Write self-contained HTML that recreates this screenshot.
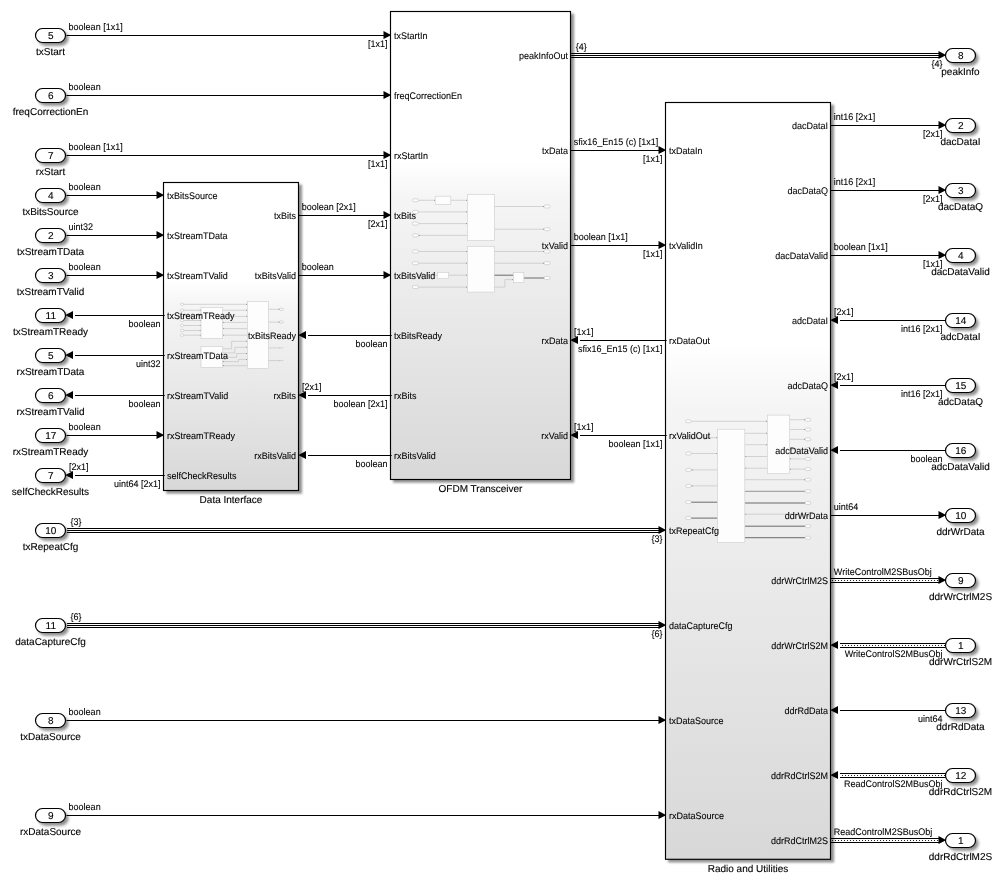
<!DOCTYPE html>
<html lang="en">
<head>
<meta charset="utf-8">
<title>Simulink model</title>
<style>
html,body{margin:0;padding:0;background:#fff;}
body{width:1004px;height:887px;overflow:hidden;}
svg{display:block;will-change:transform;}
text{font-family:"Liberation Sans", Arial, sans-serif;fill:#000;stroke:#000;stroke-width:0.1px;}
.sm{stroke-width:0.08px;text-rendering:geometricPrecision;}
.nm{stroke:#000;stroke-width:0.12px;text-rendering:geometricPrecision;}
.port{fill:#fff;stroke:#000;stroke-width:1.2;}
.psh{fill:#000;opacity:0.45;filter:url(#sp);}
.bsh{fill:#000;opacity:0.42;filter:url(#sh);}
.blk{fill:url(#bg);stroke:#000;stroke-width:1.15;}
.ln{stroke:#000;stroke-width:1.15;fill:none;}
.lb{stroke:#000;stroke-width:1;fill:none;}
.ld{stroke:#000;stroke-width:1.2;fill:none;stroke-dasharray:0.01 2.99;stroke-linecap:round;}
.ah{fill:#000;stroke:none;}
.tr{fill:#fdfdfd;stroke:#cfcfcf;stroke-width:0.65;}
.tl{stroke:#bcbcbc;stroke-width:0.6;fill:none;}
.tb{stroke:#6a6a6a;stroke-width:1;fill:none;}
.td{fill:#8a8a8a;}
.tm{stroke:#707070;stroke-width:0.7;fill:none;}
.tp{fill:#fefefe;stroke:#c0c0c0;stroke-width:0.6;}
</style>
</head>
<body>
<svg width="1004" height="887" viewBox="0 0 1004 887">
<defs>
<linearGradient id="bg" x1="0" y1="0" x2="0" y2="1">
<stop offset="0" stop-color="#ffffff"/>
<stop offset="0.32" stop-color="#ffffff"/>
<stop offset="0.40" stop-color="#f5f5f5"/>
<stop offset="1" stop-color="#d8d8d8"/>
</linearGradient>
<filter id="sh" x="-10%" y="-5%" width="120%" height="110%">
<feGaussianBlur stdDeviation="1.3"/>
</filter>
<filter id="sp" x="-50%" y="-80%" width="200%" height="260%">
<feGaussianBlur stdDeviation="1.7"/>
</filter>
</defs>
<rect width="1004" height="887" fill="#fff"/>
<rect class="bsh" x="166.1" y="184.7" width="136" height="309"/>
<rect class="blk" x="163.5" y="182.5" width="135" height="308"/>
<text class="nm" x="231" y="503" font-size="10" text-anchor="middle">Data Interface</text>
<rect class="bsh" x="393.1" y="13.7" width="181" height="469"/>
<rect class="blk" x="390.5" y="11.5" width="180" height="468"/>
<text class="nm" x="480.5" y="492" font-size="10" text-anchor="middle">OFDM Transceiver</text>
<rect class="bsh" x="668.1" y="104.7" width="166" height="757.8"/>
<rect class="blk" x="665.5" y="102.5" width="165" height="756.8"/>
<text class="nm" x="748" y="872" font-size="10" text-anchor="middle">Radio and Utilities</text>
<rect class="tp" x="180.4" y="303.2" width="3.4" height="2.2" rx="1.1"/>
<rect class="tp" x="180.4" y="309.1" width="3.4" height="2.2" rx="1.1"/>
<rect class="tp" x="180.4" y="314.4" width="3.4" height="2.2" rx="1.1"/>
<rect class="tp" x="180.4" y="319.4" width="3.4" height="2.2" rx="1.1"/>
<rect class="tp" x="180.4" y="324.4" width="3.4" height="2.2" rx="1.1"/>
<rect class="tp" x="180.4" y="329.4" width="3.4" height="2.2" rx="1.1"/>
<rect class="tp" x="180.4" y="334.1" width="3.4" height="2.2" rx="1.1"/>
<path class="tl" d="M183.8 304.3H247.4"/>
<rect class="td" x="246.15" y="303.85" width="0.9" height="0.9"/>
<path class="tl" d="M183.8 310.2H201"/>
<rect class="td" x="199.85" y="309.75" width="0.9" height="0.9"/>
<path class="tl" d="M183.8 315.5H201"/>
<rect class="td" x="199.85" y="315.05" width="0.9" height="0.9"/>
<path class="tl" d="M183.8 320.5H201"/>
<rect class="td" x="199.85" y="320.05" width="0.9" height="0.9"/>
<path class="tl" d="M183.8 325.5H201"/>
<rect class="td" x="199.85" y="325.05" width="0.9" height="0.9"/>
<path class="tl" d="M183.8 330.5H201"/>
<rect class="td" x="199.85" y="330.05" width="0.9" height="0.9"/>
<path class="tl" d="M183.8 335.2H201"/>
<rect class="td" x="199.85" y="334.75" width="0.9" height="0.9"/>
<path class="tl" d="M222.7 310.2H247.4"/>
<path class="tl" d="M222.7 316.4H247.4"/>
<path class="tl" d="M222.7 322.4H247.4"/>
<path class="tl" d="M222.7 328.6H247.4"/>
<path class="tl" d="M222.7 335.2H247.4"/>
<rect class="td" x="246.15" y="309.75" width="0.9" height="0.9"/>
<rect class="td" x="246.15" y="315.95" width="0.9" height="0.9"/>
<rect class="td" x="223.15" y="321.95" width="0.9" height="0.9"/>
<rect class="td" x="223.15" y="328.15" width="0.9" height="0.9"/>
<rect class="td" x="223.15" y="334.75" width="0.9" height="0.9"/>
<path class="tl" d="M222.7 348.8H231.6V341.3H247.4"/>
<rect class="td" x="246.15" y="340.85" width="0.9" height="0.9"/>
<path class="tl" d="M222.7 352.9H234.8V347.3H247.4"/>
<rect class="td" x="246.15" y="346.85" width="0.9" height="0.9"/>
<path class="tl" d="M222.7 357.3H236.6V353.5H247.4"/>
<rect class="td" x="246.15" y="353.05" width="0.9" height="0.9"/>
<path class="tl" d="M222.7 361.6H238.5V359.4H247.4"/>
<rect class="td" x="246.15" y="358.95" width="0.9" height="0.9"/>
<path class="tl" d="M222.7 365.7H247.4"/>
<rect class="td" x="223.15" y="365.25" width="0.9" height="0.9"/>
<rect class="td" x="223.15" y="361.15" width="0.9" height="0.9"/>
<rect class="tr" x="201" y="307.4" width="21.7" height="30.9"/>
<rect class="tr" x="201" y="346.4" width="21.7" height="21.1"/>
<rect class="tr" x="247.4" y="301.6" width="21.1" height="66.8"/>
<path class="tl" d="M268.5 309.3H280"/>
<path class="tl" d="M268.5 322.1H280"/>
<path class="tl" d="M268.5 347.9H280"/>
<path class="tl" d="M268.5 360.6H280"/>
<rect class="tp" x="279.6" y="308.2" width="3.6" height="2.2" rx="1.1"/>
<rect class="td" x="278.55" y="308.85" width="0.9" height="0.9"/>
<rect class="tp" x="279.6" y="321" width="3.6" height="2.2" rx="1.1"/>
<rect class="td" x="278.55" y="321.65" width="0.9" height="0.9"/>
<path class="tl" d="M279 347.9H283.3"/>
<path class="tl" d="M279 360.6H283.3"/>
<rect class="tp" x="412.4" y="198.8" width="6.1" height="3" rx="1.5"/>
<path class="tl" d="M418.5 200.3H467.4"/>
<rect class="tp" x="412.4" y="210.4" width="6.1" height="3" rx="1.5"/>
<path class="tl" d="M418.5 211.9H467.4"/>
<rect class="tp" x="412.4" y="222.1" width="6.1" height="3" rx="1.5"/>
<path class="tl" d="M418.5 223.6H467.4"/>
<rect class="tp" x="412.4" y="233.9" width="6.1" height="3" rx="1.5"/>
<path class="tl" d="M418.5 235.4H467.4"/>
<rect class="tp" x="412.4" y="250" width="6.1" height="3" rx="1.5"/>
<path class="tl" d="M418.5 251.5H467.4"/>
<rect class="tp" x="412.4" y="261.7" width="6.1" height="3" rx="1.5"/>
<path class="tl" d="M418.5 263.2H467.4"/>
<rect class="tp" x="412.4" y="273.7" width="6.1" height="3" rx="1.5"/>
<path class="tl" d="M418.5 275.2H467.4"/>
<rect class="tp" x="412.4" y="285.6" width="6.1" height="3" rx="1.5"/>
<path class="tl" d="M418.5 287.1H467.4"/>
<rect class="td" x="466.15" y="199.85" width="0.9" height="0.9"/>
<rect class="td" x="466.15" y="211.45" width="0.9" height="0.9"/>
<rect class="td" x="466.15" y="223.15" width="0.9" height="0.9"/>
<rect class="td" x="466.15" y="251.05" width="0.9" height="0.9"/>
<rect class="td" x="466.15" y="262.75" width="0.9" height="0.9"/>
<rect class="td" x="466.15" y="274.75" width="0.9" height="0.9"/>
<rect class="td" x="466.15" y="286.65" width="0.9" height="0.9"/>
<rect class="td" x="433.95" y="199.85" width="0.9" height="0.9"/>
<rect class="td" x="418.85" y="234.95" width="0.9" height="0.9"/>
<rect class="tr" x="435.2" y="196.2" width="15.6" height="8.3"/>
<rect class="tr" x="437.4" y="272.4" width="11.3" height="6"/>
<rect class="tr" x="467.4" y="194.3" width="27.1" height="46.1"/>
<rect class="tr" x="467.4" y="246.3" width="27.1" height="45.8"/>
<path class="tl" d="M494.5 206.5H545"/>
<rect class="tp" x="544" y="205" width="6.1" height="3" rx="1.5"/>
<rect class="td" x="542.95" y="206.05" width="0.9" height="0.9"/>
<path class="tl" d="M494.5 229.2H545"/>
<rect class="tp" x="544" y="227.7" width="6.1" height="3" rx="1.5"/>
<rect class="td" x="542.95" y="228.75" width="0.9" height="0.9"/>
<path class="tl" d="M494.5 251.5H545"/>
<rect class="tp" x="544" y="250" width="6.1" height="3" rx="1.5"/>
<rect class="td" x="542.95" y="251.05" width="0.9" height="0.9"/>
<path class="tl" d="M494.5 263.2H545"/>
<rect class="tp" x="544" y="261.7" width="6.1" height="3" rx="1.5"/>
<rect class="td" x="542.95" y="262.75" width="0.9" height="0.9"/>
<path class="tb" d="M494.5 275.2H513.5"/>
<path class="tb" d="M523.8 278H545"/>
<path class="tl" d="M494.5 287.1H504.9V279.6H513.5"/>
<rect class="td" x="512.25" y="279.15" width="0.9" height="0.9"/>
<rect class="tp" x="544" y="276.5" width="6.1" height="3" rx="1.5"/>
<rect class="tr" x="513.5" y="272.6" width="10.3" height="9.9"/>
<rect class="tp" x="685.6" y="419.85" width="5.7" height="2.9" rx="1.45"/>
<rect class="tp" x="685.6" y="436.25" width="5.7" height="2.9" rx="1.45"/>
<rect class="tp" x="685.6" y="452.05" width="5.7" height="2.9" rx="1.45"/>
<rect class="tp" x="685.6" y="468.45" width="5.7" height="2.9" rx="1.45"/>
<rect class="tp" x="685.6" y="484.45" width="5.7" height="2.9" rx="1.45"/>
<rect class="tp" x="685.6" y="500.75" width="5.7" height="2.9" rx="1.45"/>
<rect class="tp" x="685.6" y="516.65" width="5.7" height="2.9" rx="1.45"/>
<path class="tl" d="M691.3 421.3H767.3"/>
<rect class="td" x="766.05" y="420.85" width="0.9" height="0.9"/>
<path class="tl" d="M691.3 437.7H717.5"/>
<path class="tl" d="M691.3 453.5H717.5"/>
<path class="tl" d="M691.3 469.9H717.5"/>
<path class="tl" d="M691.3 485.9H717.5"/>
<rect class="td" x="716.25" y="437.25" width="0.9" height="0.9"/>
<rect class="td" x="716.25" y="453.05" width="0.9" height="0.9"/>
<rect class="td" x="691.85" y="469.45" width="0.9" height="0.9"/>
<rect class="td" x="691.85" y="485.45" width="0.9" height="0.9"/>
<path class="tb" d="M691.3 502.2H717.5"/>
<path class="tb" d="M691.3 518.1H717.5"/>
<path class="tl" d="M744.8 433.3H767.3"/>
<path class="tl" d="M744.8 444.7H767.3"/>
<path class="tl" d="M744.8 456.5H767.3"/>
<path class="tl" d="M744.8 468.2H767.3"/>
<rect class="td" x="766.05" y="432.85" width="0.9" height="0.9"/>
<rect class="td" x="766.05" y="444.25" width="0.9" height="0.9"/>
<rect class="td" x="745.25" y="456.05" width="0.9" height="0.9"/>
<rect class="td" x="745.25" y="467.75" width="0.9" height="0.9"/>
<path class="tl" d="M789.7 419.7H805"/>
<rect class="tp" x="805.2" y="418.25" width="5.6" height="2.9" rx="1.45"/>
<rect class="td" x="803.95" y="419.25" width="0.9" height="0.9"/>
<path class="tl" d="M789.7 429.5H805"/>
<rect class="tp" x="805.2" y="428.05" width="5.6" height="2.9" rx="1.45"/>
<rect class="td" x="803.95" y="429.05" width="0.9" height="0.9"/>
<path class="tl" d="M789.7 439.3H805"/>
<rect class="tp" x="805.2" y="437.85" width="5.6" height="2.9" rx="1.45"/>
<rect class="td" x="803.95" y="438.85" width="0.9" height="0.9"/>
<path class="tl" d="M789.7 449.1H805"/>
<rect class="tp" x="805.2" y="447.65" width="5.6" height="2.9" rx="1.45"/>
<rect class="td" x="790.15" y="448.65" width="0.9" height="0.9"/>
<path class="tl" d="M789.7 458.9H805"/>
<rect class="tp" x="805.2" y="457.45" width="5.6" height="2.9" rx="1.45"/>
<rect class="td" x="790.15" y="458.45" width="0.9" height="0.9"/>
<path class="tl" d="M789.7 469.1H805"/>
<rect class="tp" x="805.2" y="467.65" width="5.6" height="2.9" rx="1.45"/>
<rect class="td" x="790.15" y="468.65" width="0.9" height="0.9"/>
<path class="tl" d="M744.8 479.7H805"/>
<rect class="tp" x="805.2" y="478.25" width="5.6" height="2.9" rx="1.45"/>
<path class="tm" d="M744.8 491.3H805"/>
<rect class="tp" x="805.2" y="489.85" width="5.6" height="2.9" rx="1.45"/>
<path class="tb" d="M744.8 503H805"/>
<rect class="tp" x="805.2" y="501.55" width="5.6" height="2.9" rx="1.45"/>
<path class="tl" d="M744.8 514.2H805"/>
<rect class="tp" x="805.2" y="512.75" width="5.6" height="2.9" rx="1.45"/>
<path class="tb" d="M744.8 526.2H805"/>
<rect class="tp" x="805.2" y="524.75" width="5.6" height="2.9" rx="1.45"/>
<path class="tb" d="M744.8 537.7H805"/>
<rect class="tp" x="805.2" y="536.25" width="5.6" height="2.9" rx="1.45"/>
<rect class="td" x="803.95" y="479.25" width="0.9" height="0.9"/>
<rect class="td" x="745.25" y="513.75" width="0.9" height="0.9"/>
<rect class="tr" x="717.5" y="429.2" width="27.3" height="113.4"/>
<rect class="tr" x="767.3" y="415.1" width="22.4" height="58.5"/>
<text class="sm" transform="translate(166.9 198.6) scale(1 1.06)" font-size="9" text-anchor="start">txBitsSource</text>
<text class="sm" transform="translate(166.9 238.6) scale(1 1.06)" font-size="9" text-anchor="start">txStreamTData</text>
<text class="sm" transform="translate(166.9 278.6) scale(1 1.06)" font-size="9" text-anchor="start">txStreamTValid</text>
<text class="sm" transform="translate(166.9 318.6) scale(1 1.06)" font-size="9" text-anchor="start">txStreamTReady</text>
<text class="sm" transform="translate(166.9 358.6) scale(1 1.06)" font-size="9" text-anchor="start">rxStreamTData</text>
<text class="sm" transform="translate(166.9 398.6) scale(1 1.06)" font-size="9" text-anchor="start">rxStreamTValid</text>
<text class="sm" transform="translate(166.9 438.6) scale(1 1.06)" font-size="9" text-anchor="start">rxStreamTReady</text>
<text class="sm" transform="translate(166.9 478.6) scale(1 1.06)" font-size="9" text-anchor="start">selfCheckResults</text>
<text class="sm" transform="translate(296 218.6) scale(1 1.06)" font-size="9" text-anchor="end">txBits</text>
<text class="sm" transform="translate(296 278.6) scale(1 1.06)" font-size="9" text-anchor="end">txBitsValid</text>
<text class="sm" transform="translate(296 338.6) scale(1 1.06)" font-size="9" text-anchor="end">txBitsReady</text>
<text class="sm" transform="translate(296 398.6) scale(1 1.06)" font-size="9" text-anchor="end">rxBits</text>
<text class="sm" transform="translate(296 458.6) scale(1 1.06)" font-size="9" text-anchor="end">rxBitsValid</text>
<text class="sm" transform="translate(393.9 38.6) scale(1 1.06)" font-size="9" text-anchor="start">txStartIn</text>
<text class="sm" transform="translate(393.9 98.6) scale(1 1.06)" font-size="9" text-anchor="start">freqCorrectionEn</text>
<text class="sm" transform="translate(393.9 158.6) scale(1 1.06)" font-size="9" text-anchor="start">rxStartIn</text>
<text class="sm" transform="translate(393.9 218.6) scale(1 1.06)" font-size="9" text-anchor="start">txBits</text>
<text class="sm" transform="translate(393.9 278.6) scale(1 1.06)" font-size="9" text-anchor="start">txBitsValid</text>
<text class="sm" transform="translate(393.9 338.6) scale(1 1.06)" font-size="9" text-anchor="start">txBitsReady</text>
<text class="sm" transform="translate(393.9 398.6) scale(1 1.06)" font-size="9" text-anchor="start">rxBits</text>
<text class="sm" transform="translate(393.9 458.6) scale(1 1.06)" font-size="9" text-anchor="start">rxBitsValid</text>
<text class="sm" transform="translate(568 58.6) scale(1 1.06)" font-size="9" text-anchor="end">peakInfoOut</text>
<text class="sm" transform="translate(568 153.6) scale(1 1.06)" font-size="9" text-anchor="end">txData</text>
<text class="sm" transform="translate(568 248.6) scale(1 1.06)" font-size="9" text-anchor="end">txValid</text>
<text class="sm" transform="translate(568 343.6) scale(1 1.06)" font-size="9" text-anchor="end">rxData</text>
<text class="sm" transform="translate(568 438.6) scale(1 1.06)" font-size="9" text-anchor="end">rxValid</text>
<text class="sm" transform="translate(668.9 153.6) scale(1 1.06)" font-size="9" text-anchor="start">txDataIn</text>
<text class="sm" transform="translate(668.9 248.6) scale(1 1.06)" font-size="9" text-anchor="start">txValidIn</text>
<text class="sm" transform="translate(668.9 343.6) scale(1 1.06)" font-size="9" text-anchor="start">rxDataOut</text>
<text class="sm" transform="translate(668.9 438.6) scale(1 1.06)" font-size="9" text-anchor="start">rxValidOut</text>
<text class="sm" transform="translate(668.9 533.6) scale(1 1.06)" font-size="9" text-anchor="start">txRepeatCfg</text>
<text class="sm" transform="translate(668.9 628.6) scale(1 1.06)" font-size="9" text-anchor="start">dataCaptureCfg</text>
<text class="sm" transform="translate(668.9 723.6) scale(1 1.06)" font-size="9" text-anchor="start">txDataSource</text>
<text class="sm" transform="translate(668.9 818.6) scale(1 1.06)" font-size="9" text-anchor="start">rxDataSource</text>
<text class="sm" transform="translate(828 128.6) scale(1 1.06)" font-size="9" text-anchor="end">dacDataI</text>
<text class="sm" transform="translate(828 193.6) scale(1 1.06)" font-size="9" text-anchor="end">dacDataQ</text>
<text class="sm" transform="translate(828 258.6) scale(1 1.06)" font-size="9" text-anchor="end">dacDataValid</text>
<text class="sm" transform="translate(828 323.6) scale(1 1.06)" font-size="9" text-anchor="end">adcDataI</text>
<text class="sm" transform="translate(828 388.6) scale(1 1.06)" font-size="9" text-anchor="end">adcDataQ</text>
<text class="sm" transform="translate(828 453.6) scale(1 1.06)" font-size="9" text-anchor="end">adcDataValid</text>
<text class="sm" transform="translate(828 518.6) scale(1 1.06)" font-size="9" text-anchor="end">ddrWrData</text>
<text class="sm" transform="translate(828 583.6) scale(1 1.06)" font-size="9" text-anchor="end">ddrWrCtrlM2S</text>
<text class="sm" transform="translate(828 648.6) scale(1 1.06)" font-size="9" text-anchor="end">ddrWrCtrlS2M</text>
<text class="sm" transform="translate(828 713.6) scale(1 1.06)" font-size="9" text-anchor="end">ddrRdData</text>
<text class="sm" transform="translate(828 778.6) scale(1 1.06)" font-size="9" text-anchor="end">ddrRdCtrlS2M</text>
<text class="sm" transform="translate(828 843.6) scale(1 1.06)" font-size="9" text-anchor="end">ddrRdCtrlM2S</text>
<rect class="psh" x="38.1" y="31.3" width="30.4" height="14.4" rx="7.2" ry="7.2"/>
<rect class="port" x="35.5" y="28.5" width="30" height="14" rx="7" ry="7"/>
<text class="nm" x="50.8" y="39" font-size="10" text-anchor="middle">5</text>
<text class="nm" x="50.5" y="55" font-size="10" text-anchor="middle">txStart</text>
<rect class="psh" x="38.1" y="91.3" width="30.4" height="14.4" rx="7.2" ry="7.2"/>
<rect class="port" x="35.5" y="88.5" width="30" height="14" rx="7" ry="7"/>
<text class="nm" x="50.8" y="99" font-size="10" text-anchor="middle">6</text>
<text class="nm" x="50.5" y="115" font-size="10" text-anchor="middle">freqCorrectionEn</text>
<rect class="psh" x="38.1" y="151.3" width="30.4" height="14.4" rx="7.2" ry="7.2"/>
<rect class="port" x="35.5" y="148.5" width="30" height="14" rx="7" ry="7"/>
<text class="nm" x="50.8" y="159" font-size="10" text-anchor="middle">7</text>
<text class="nm" x="50.5" y="175" font-size="10" text-anchor="middle">rxStart</text>
<rect class="psh" x="38.1" y="191.3" width="30.4" height="14.4" rx="7.2" ry="7.2"/>
<rect class="port" x="35.5" y="188.5" width="30" height="14" rx="7" ry="7"/>
<text class="nm" x="50.8" y="199" font-size="10" text-anchor="middle">4</text>
<text class="nm" x="50.5" y="215" font-size="10" text-anchor="middle">txBitsSource</text>
<rect class="psh" x="38.1" y="231.3" width="30.4" height="14.4" rx="7.2" ry="7.2"/>
<rect class="port" x="35.5" y="228.5" width="30" height="14" rx="7" ry="7"/>
<text class="nm" x="50.8" y="239" font-size="10" text-anchor="middle">2</text>
<text class="nm" x="50.5" y="255" font-size="10" text-anchor="middle">txStreamTData</text>
<rect class="psh" x="38.1" y="271.3" width="30.4" height="14.4" rx="7.2" ry="7.2"/>
<rect class="port" x="35.5" y="268.5" width="30" height="14" rx="7" ry="7"/>
<text class="nm" x="50.8" y="279" font-size="10" text-anchor="middle">3</text>
<text class="nm" x="50.5" y="295" font-size="10" text-anchor="middle">txStreamTValid</text>
<rect class="psh" x="38.1" y="311.3" width="30.4" height="14.4" rx="7.2" ry="7.2"/>
<rect class="port" x="35.5" y="308.5" width="30" height="14" rx="7" ry="7"/>
<text class="nm" x="50.8" y="319" font-size="10" text-anchor="middle">11</text>
<text class="nm" x="50.5" y="335" font-size="10" text-anchor="middle">txStreamTReady</text>
<rect class="psh" x="38.1" y="351.3" width="30.4" height="14.4" rx="7.2" ry="7.2"/>
<rect class="port" x="35.5" y="348.5" width="30" height="14" rx="7" ry="7"/>
<text class="nm" x="50.8" y="359" font-size="10" text-anchor="middle">5</text>
<text class="nm" x="50.5" y="375" font-size="10" text-anchor="middle">rxStreamTData</text>
<rect class="psh" x="38.1" y="391.3" width="30.4" height="14.4" rx="7.2" ry="7.2"/>
<rect class="port" x="35.5" y="388.5" width="30" height="14" rx="7" ry="7"/>
<text class="nm" x="50.8" y="399" font-size="10" text-anchor="middle">6</text>
<text class="nm" x="50.5" y="415" font-size="10" text-anchor="middle">rxStreamTValid</text>
<rect class="psh" x="38.1" y="431.3" width="30.4" height="14.4" rx="7.2" ry="7.2"/>
<rect class="port" x="35.5" y="428.5" width="30" height="14" rx="7" ry="7"/>
<text class="nm" x="50.8" y="439" font-size="10" text-anchor="middle">17</text>
<text class="nm" x="50.5" y="455" font-size="10" text-anchor="middle">rxStreamTReady</text>
<rect class="psh" x="38.1" y="471.3" width="30.4" height="14.4" rx="7.2" ry="7.2"/>
<rect class="port" x="35.5" y="468.5" width="30" height="14" rx="7" ry="7"/>
<text class="nm" x="50.8" y="479" font-size="10" text-anchor="middle">7</text>
<text class="nm" x="50.5" y="495" font-size="10" text-anchor="middle">selfCheckResults</text>
<rect class="psh" x="38.1" y="526.3" width="30.4" height="14.4" rx="7.2" ry="7.2"/>
<rect class="port" x="35.5" y="523.5" width="30" height="14" rx="7" ry="7"/>
<text class="nm" x="50.8" y="534" font-size="10" text-anchor="middle">10</text>
<text class="nm" x="50.5" y="550" font-size="10" text-anchor="middle">txRepeatCfg</text>
<rect class="psh" x="38.1" y="621.3" width="30.4" height="14.4" rx="7.2" ry="7.2"/>
<rect class="port" x="35.5" y="618.5" width="30" height="14" rx="7" ry="7"/>
<text class="nm" x="50.8" y="629" font-size="10" text-anchor="middle">11</text>
<text class="nm" x="50.5" y="645" font-size="10" text-anchor="middle">dataCaptureCfg</text>
<rect class="psh" x="38.1" y="716.3" width="30.4" height="14.4" rx="7.2" ry="7.2"/>
<rect class="port" x="35.5" y="713.5" width="30" height="14" rx="7" ry="7"/>
<text class="nm" x="50.8" y="724" font-size="10" text-anchor="middle">8</text>
<text class="nm" x="50.5" y="740" font-size="10" text-anchor="middle">txDataSource</text>
<rect class="psh" x="38.1" y="811.3" width="30.4" height="14.4" rx="7.2" ry="7.2"/>
<rect class="port" x="35.5" y="808.5" width="30" height="14" rx="7" ry="7"/>
<text class="nm" x="50.8" y="819" font-size="10" text-anchor="middle">9</text>
<text class="nm" x="50.5" y="835" font-size="10" text-anchor="middle">rxDataSource</text>
<rect class="psh" x="948.1" y="51.3" width="30.4" height="14.4" rx="7.2" ry="7.2"/>
<rect class="port" x="945.5" y="48.5" width="30" height="14" rx="7" ry="7"/>
<text class="nm" x="960.8" y="59" font-size="10" text-anchor="middle">8</text>
<text class="nm" x="960.5" y="75" font-size="10" text-anchor="middle">peakInfo</text>
<rect class="psh" x="948.1" y="121.3" width="30.4" height="14.4" rx="7.2" ry="7.2"/>
<rect class="port" x="945.5" y="118.5" width="30" height="14" rx="7" ry="7"/>
<text class="nm" x="960.8" y="129" font-size="10" text-anchor="middle">2</text>
<text class="nm" x="960.5" y="145" font-size="10" text-anchor="middle">dacDataI</text>
<rect class="psh" x="948.1" y="186.3" width="30.4" height="14.4" rx="7.2" ry="7.2"/>
<rect class="port" x="945.5" y="183.5" width="30" height="14" rx="7" ry="7"/>
<text class="nm" x="960.8" y="194" font-size="10" text-anchor="middle">3</text>
<text class="nm" x="960.5" y="210" font-size="10" text-anchor="middle">dacDataQ</text>
<rect class="psh" x="948.1" y="251.3" width="30.4" height="14.4" rx="7.2" ry="7.2"/>
<rect class="port" x="945.5" y="248.5" width="30" height="14" rx="7" ry="7"/>
<text class="nm" x="960.8" y="259" font-size="10" text-anchor="middle">4</text>
<text class="nm" x="960.5" y="275" font-size="10" text-anchor="middle">dacDataValid</text>
<rect class="psh" x="948.1" y="316.3" width="30.4" height="14.4" rx="7.2" ry="7.2"/>
<rect class="port" x="945.5" y="313.5" width="30" height="14" rx="7" ry="7"/>
<text class="nm" x="960.8" y="324" font-size="10" text-anchor="middle">14</text>
<text class="nm" x="960.5" y="340" font-size="10" text-anchor="middle">adcDataI</text>
<rect class="psh" x="948.1" y="381.3" width="30.4" height="14.4" rx="7.2" ry="7.2"/>
<rect class="port" x="945.5" y="378.5" width="30" height="14" rx="7" ry="7"/>
<text class="nm" x="960.8" y="389" font-size="10" text-anchor="middle">15</text>
<text class="nm" x="960.5" y="405" font-size="10" text-anchor="middle">adcDataQ</text>
<rect class="psh" x="948.1" y="446.3" width="30.4" height="14.4" rx="7.2" ry="7.2"/>
<rect class="port" x="945.5" y="443.5" width="30" height="14" rx="7" ry="7"/>
<text class="nm" x="960.8" y="454" font-size="10" text-anchor="middle">16</text>
<text class="nm" x="960.5" y="470" font-size="10" text-anchor="middle">adcDataValid</text>
<rect class="psh" x="948.1" y="511.3" width="30.4" height="14.4" rx="7.2" ry="7.2"/>
<rect class="port" x="945.5" y="508.5" width="30" height="14" rx="7" ry="7"/>
<text class="nm" x="960.8" y="519" font-size="10" text-anchor="middle">10</text>
<text class="nm" x="960.5" y="535" font-size="10" text-anchor="middle">ddrWrData</text>
<rect class="psh" x="948.1" y="576.3" width="30.4" height="14.4" rx="7.2" ry="7.2"/>
<rect class="port" x="945.5" y="573.5" width="30" height="14" rx="7" ry="7"/>
<text class="nm" x="960.8" y="584" font-size="10" text-anchor="middle">9</text>
<text class="nm" x="960.5" y="600" font-size="10" text-anchor="middle">ddrWrCtrlM2S</text>
<rect class="psh" x="948.1" y="641.3" width="30.4" height="14.4" rx="7.2" ry="7.2"/>
<rect class="port" x="945.5" y="638.5" width="30" height="14" rx="7" ry="7"/>
<text class="nm" x="960.8" y="649" font-size="10" text-anchor="middle">1</text>
<text class="nm" x="960.5" y="665" font-size="10" text-anchor="middle">ddrWrCtrlS2M</text>
<rect class="psh" x="948.1" y="706.3" width="30.4" height="14.4" rx="7.2" ry="7.2"/>
<rect class="port" x="945.5" y="703.5" width="30" height="14" rx="7" ry="7"/>
<text class="nm" x="960.8" y="714" font-size="10" text-anchor="middle">13</text>
<text class="nm" x="960.5" y="730" font-size="10" text-anchor="middle">ddrRdData</text>
<rect class="psh" x="948.1" y="771.3" width="30.4" height="14.4" rx="7.2" ry="7.2"/>
<rect class="port" x="945.5" y="768.5" width="30" height="14" rx="7" ry="7"/>
<text class="nm" x="960.8" y="779" font-size="10" text-anchor="middle">12</text>
<text class="nm" x="960.5" y="795" font-size="10" text-anchor="middle">ddrRdCtrlS2M</text>
<rect class="psh" x="948.1" y="836.3" width="30.4" height="14.4" rx="7.2" ry="7.2"/>
<rect class="port" x="945.5" y="833.5" width="30" height="14" rx="7" ry="7"/>
<text class="nm" x="960.8" y="844" font-size="10" text-anchor="middle">1</text>
<text class="nm" x="960.5" y="860" font-size="10" text-anchor="middle">ddrRdCtrlM2S</text>
<path class="ln" d="M66.5 35.5H384"/>
<path class="ah" d="M390.5 34.65V35.55L383.5 39.1V31.1Z"/>
<text class="sm" transform="translate(68.6 30) scale(1 1.06)" font-size="9" text-anchor="start">boolean [1x1]</text>
<text class="sm" transform="translate(387.5 47) scale(1 1.06)" font-size="9" text-anchor="end">[1x1]</text>
<path class="ln" d="M66.5 95.5H384"/>
<path class="ah" d="M390.5 94.65V95.55L383.5 99.1V91.1Z"/>
<text class="sm" transform="translate(68.6 90) scale(1 1.06)" font-size="9" text-anchor="start">boolean</text>
<path class="ln" d="M66.5 155.5H384"/>
<path class="ah" d="M390.5 154.65V155.55L383.5 159.1V151.1Z"/>
<text class="sm" transform="translate(68.6 150) scale(1 1.06)" font-size="9" text-anchor="start">boolean [1x1]</text>
<text class="sm" transform="translate(387.5 167) scale(1 1.06)" font-size="9" text-anchor="end">[1x1]</text>
<path class="ln" d="M66.5 195.5H157"/>
<path class="ah" d="M163.5 194.65V195.55L156.5 199.1V191.1Z"/>
<text class="sm" transform="translate(68.6 190) scale(1 1.06)" font-size="9" text-anchor="start">boolean</text>
<path class="ln" d="M66.5 235.5H157"/>
<path class="ah" d="M163.5 234.65V235.55L156.5 239.1V231.1Z"/>
<text class="sm" transform="translate(68.6 230) scale(1 1.06)" font-size="9" text-anchor="start">uint32</text>
<path class="ln" d="M66.5 275.5H157"/>
<path class="ah" d="M163.5 274.65V275.55L156.5 279.1V271.1Z"/>
<text class="sm" transform="translate(68.6 270) scale(1 1.06)" font-size="9" text-anchor="start">boolean</text>
<path class="ln" d="M75 315.5H164.7"/>
<path class="ah" d="M66 314.65V315.55L73 319.1V311.1Z"/>
<text class="sm" transform="translate(160.5 327) scale(1 1.06)" font-size="9" text-anchor="end">boolean</text>
<path class="ln" d="M75 355.5H164.7"/>
<path class="ah" d="M66 354.65V355.55L73 359.1V351.1Z"/>
<text class="sm" transform="translate(160.5 367) scale(1 1.06)" font-size="9" text-anchor="end">uint32</text>
<path class="ln" d="M75 395.5H164.7"/>
<path class="ah" d="M66 394.65V395.55L73 399.1V391.1Z"/>
<text class="sm" transform="translate(160.5 407) scale(1 1.06)" font-size="9" text-anchor="end">boolean</text>
<path class="ln" d="M66.5 435.5H157"/>
<path class="ah" d="M163.5 434.65V435.55L156.5 439.1V431.1Z"/>
<text class="sm" transform="translate(68.6 430) scale(1 1.06)" font-size="9" text-anchor="start">boolean</text>
<path class="ln" d="M75 475.5H164.7"/>
<path class="ah" d="M66 474.65V475.55L73 479.1V471.1Z"/>
<text class="sm" transform="translate(160.5 487) scale(1 1.06)" font-size="9" text-anchor="end">uint64 [2x1]</text>
<text class="sm" transform="translate(69 470) scale(1 1.06)" font-size="9" text-anchor="start">[2x1]</text>
<path class="lb" d="M67.1 528.5H659"/>
<path class="lb" d="M67.1 530.5H659"/>
<path class="lb" d="M67.1 532.5H659"/>
<path class="ah" d="M665.5 529.65V530.55L658.5 534.1V526.1Z"/>
<text class="sm" transform="translate(70.6 525) scale(1 1.06)" font-size="9" text-anchor="start">{3}</text>
<text class="sm" transform="translate(662.5 542) scale(1 1.06)" font-size="9" text-anchor="end">{3}</text>
<path class="lb" d="M67.1 623.5H659"/>
<path class="lb" d="M67.1 625.5H659"/>
<path class="lb" d="M67.1 627.5H659"/>
<path class="ah" d="M665.5 624.65V625.55L658.5 629.1V621.1Z"/>
<text class="sm" transform="translate(70.6 620) scale(1 1.06)" font-size="9" text-anchor="start">{6}</text>
<text class="sm" transform="translate(662.5 637) scale(1 1.06)" font-size="9" text-anchor="end">{6}</text>
<path class="ln" d="M66.5 720.5H659"/>
<path class="ah" d="M665.5 719.65V720.55L658.5 724.1V716.1Z"/>
<text class="sm" transform="translate(68.6 715) scale(1 1.06)" font-size="9" text-anchor="start">boolean</text>
<path class="ln" d="M66.5 815.5H659"/>
<path class="ah" d="M665.5 814.65V815.55L658.5 819.1V811.1Z"/>
<text class="sm" transform="translate(68.6 810) scale(1 1.06)" font-size="9" text-anchor="start">boolean</text>
<path class="ln" d="M298.5 215.5H384"/>
<path class="ah" d="M390.5 214.65V215.55L383.5 219.1V211.1Z"/>
<text class="sm" transform="translate(301.8 210) scale(1 1.06)" font-size="9" text-anchor="start">boolean [2x1]</text>
<text class="sm" transform="translate(387.5 227) scale(1 1.06)" font-size="9" text-anchor="end">[2x1]</text>
<path class="ln" d="M298.5 275.5H384"/>
<path class="ah" d="M390.5 274.65V275.55L383.5 279.1V271.1Z"/>
<text class="sm" transform="translate(301.8 270) scale(1 1.06)" font-size="9" text-anchor="start">boolean</text>
<path class="ln" d="M308 335.5H391.7"/>
<path class="ah" d="M299 334.65V335.55L306 339.1V331.1Z"/>
<text class="sm" transform="translate(387.5 347) scale(1 1.06)" font-size="9" text-anchor="end">boolean</text>
<path class="ln" d="M308 395.5H391.7"/>
<path class="ah" d="M299 394.65V395.55L306 399.1V391.1Z"/>
<text class="sm" transform="translate(387.5 407) scale(1 1.06)" font-size="9" text-anchor="end">boolean [2x1]</text>
<text class="sm" transform="translate(302 390) scale(1 1.06)" font-size="9" text-anchor="start">[2x1]</text>
<path class="ln" d="M308 455.5H391.7"/>
<path class="ah" d="M299 454.65V455.55L306 459.1V451.1Z"/>
<text class="sm" transform="translate(387.5 467) scale(1 1.06)" font-size="9" text-anchor="end">boolean</text>
<path class="lb" d="M571.1 53.5H939"/>
<path class="lb" d="M571.1 55.5H939"/>
<path class="lb" d="M571.1 57.5H939"/>
<path class="ah" d="M945.5 54.65V55.55L938.5 59.1V51.1Z"/>
<text class="sm" transform="translate(575.8 50) scale(1 1.06)" font-size="9" text-anchor="start">{4}</text>
<text class="sm" transform="translate(942.5 67) scale(1 1.06)" font-size="9" text-anchor="end">{4}</text>
<path class="ln" d="M570.5 150.5H659"/>
<path class="ah" d="M665.5 149.65V150.55L658.5 154.1V146.1Z"/>
<text class="sm" transform="translate(573.8 145) scale(1 1.06)" font-size="9" text-anchor="start">sfix16_En15 (c) [1x1]</text>
<text class="sm" transform="translate(662.5 162) scale(1 1.06)" font-size="9" text-anchor="end">[1x1]</text>
<path class="ln" d="M570.5 245.5H659"/>
<path class="ah" d="M665.5 244.65V245.55L658.5 249.1V241.1Z"/>
<text class="sm" transform="translate(573.8 240) scale(1 1.06)" font-size="9" text-anchor="start">boolean [1x1]</text>
<text class="sm" transform="translate(662.5 257) scale(1 1.06)" font-size="9" text-anchor="end">[1x1]</text>
<path class="ln" d="M580 340.5H666.7"/>
<path class="ah" d="M571 339.65V340.55L578 344.1V336.1Z"/>
<text class="sm" transform="translate(662.5 352) scale(1 1.06)" font-size="9" text-anchor="end">sfix16_En15 (c) [1x1]</text>
<text class="sm" transform="translate(574 335) scale(1 1.06)" font-size="9" text-anchor="start">[1x1]</text>
<path class="ln" d="M580 435.5H666.7"/>
<path class="ah" d="M571 434.65V435.55L578 439.1V431.1Z"/>
<text class="sm" transform="translate(662.5 447) scale(1 1.06)" font-size="9" text-anchor="end">boolean [1x1]</text>
<text class="sm" transform="translate(574 430) scale(1 1.06)" font-size="9" text-anchor="start">[1x1]</text>
<path class="ln" d="M830.5 125.5H939"/>
<path class="ah" d="M945.5 124.65V125.55L938.5 129.1V121.1Z"/>
<text class="sm" transform="translate(833.8 120) scale(1 1.06)" font-size="9" text-anchor="start">int16 [2x1]</text>
<text class="sm" transform="translate(942.5 137) scale(1 1.06)" font-size="9" text-anchor="end">[2x1]</text>
<path class="ln" d="M830.5 190.5H939"/>
<path class="ah" d="M945.5 189.65V190.55L938.5 194.1V186.1Z"/>
<text class="sm" transform="translate(833.8 185) scale(1 1.06)" font-size="9" text-anchor="start">int16 [2x1]</text>
<text class="sm" transform="translate(942.5 202) scale(1 1.06)" font-size="9" text-anchor="end">[2x1]</text>
<path class="ln" d="M830.5 255.5H939"/>
<path class="ah" d="M945.5 254.65V255.55L938.5 259.1V251.1Z"/>
<text class="sm" transform="translate(833.8 250) scale(1 1.06)" font-size="9" text-anchor="start">boolean [1x1]</text>
<text class="sm" transform="translate(942.5 267) scale(1 1.06)" font-size="9" text-anchor="end">[1x1]</text>
<path class="ln" d="M840 320.5H945.5"/>
<path class="ah" d="M831 319.65V320.55L838 324.1V316.1Z"/>
<text class="sm" transform="translate(942.5 332) scale(1 1.06)" font-size="9" text-anchor="end">int16 [2x1]</text>
<text class="sm" transform="translate(834 315) scale(1 1.06)" font-size="9" text-anchor="start">[2x1]</text>
<path class="ln" d="M840 385.5H945.5"/>
<path class="ah" d="M831 384.65V385.55L838 389.1V381.1Z"/>
<text class="sm" transform="translate(942.5 397) scale(1 1.06)" font-size="9" text-anchor="end">int16 [2x1]</text>
<text class="sm" transform="translate(834 380) scale(1 1.06)" font-size="9" text-anchor="start">[2x1]</text>
<path class="ln" d="M840 450.5H945.5"/>
<path class="ah" d="M831 449.65V450.55L838 454.1V446.1Z"/>
<text class="sm" transform="translate(942.5 462) scale(1 1.06)" font-size="9" text-anchor="end">boolean</text>
<path class="ln" d="M830.5 515.5H939"/>
<path class="ah" d="M945.5 514.65V515.55L938.5 519.1V511.1Z"/>
<text class="sm" transform="translate(833.8 510) scale(1 1.06)" font-size="9" text-anchor="start">uint64</text>
<path class="lb" d="M830.5 578.5H939"/>
<path class="lb" d="M830.5 582.5H939"/>
<path class="ld" d="M832.5 580.5H938.5"/>
<path class="ah" d="M945.5 579.65V580.55L938.5 584.1V576.1Z"/>
<text class="sm" transform="translate(833.8 575) scale(1 1.06)" font-size="9" text-anchor="start">WriteControlM2SBusObj</text>
<path class="lb" d="M840 643.5H945.5"/>
<path class="lb" d="M840 647.5H945.5"/>
<path class="ld" d="M842.5 645.5H945"/>
<path class="ah" d="M831 644.65V645.55L838 649.1V641.1Z"/>
<text class="sm" transform="translate(942.5 657) scale(1 1.06)" font-size="9" text-anchor="end">WriteControlS2MBusObj</text>
<path class="ln" d="M840 710.5H945.5"/>
<path class="ah" d="M831 709.65V710.55L838 714.1V706.1Z"/>
<text class="sm" transform="translate(942.5 722) scale(1 1.06)" font-size="9" text-anchor="end">uint64</text>
<path class="lb" d="M840 773.5H945.5"/>
<path class="lb" d="M840 777.5H945.5"/>
<path class="ld" d="M842.5 775.5H945"/>
<path class="ah" d="M831 774.65V775.55L838 779.1V771.1Z"/>
<text class="sm" transform="translate(942.5 787) scale(1 1.06)" font-size="9" text-anchor="end">ReadControlS2MBusObj</text>
<path class="lb" d="M830.5 838.5H939"/>
<path class="lb" d="M830.5 842.5H939"/>
<path class="ld" d="M832.5 840.5H938.5"/>
<path class="ah" d="M945.5 839.65V840.55L938.5 844.1V836.1Z"/>
<text class="sm" transform="translate(833.8 835) scale(1 1.06)" font-size="9" text-anchor="start">ReadControlM2SBusObj</text>
</svg>
</body>
</html>
